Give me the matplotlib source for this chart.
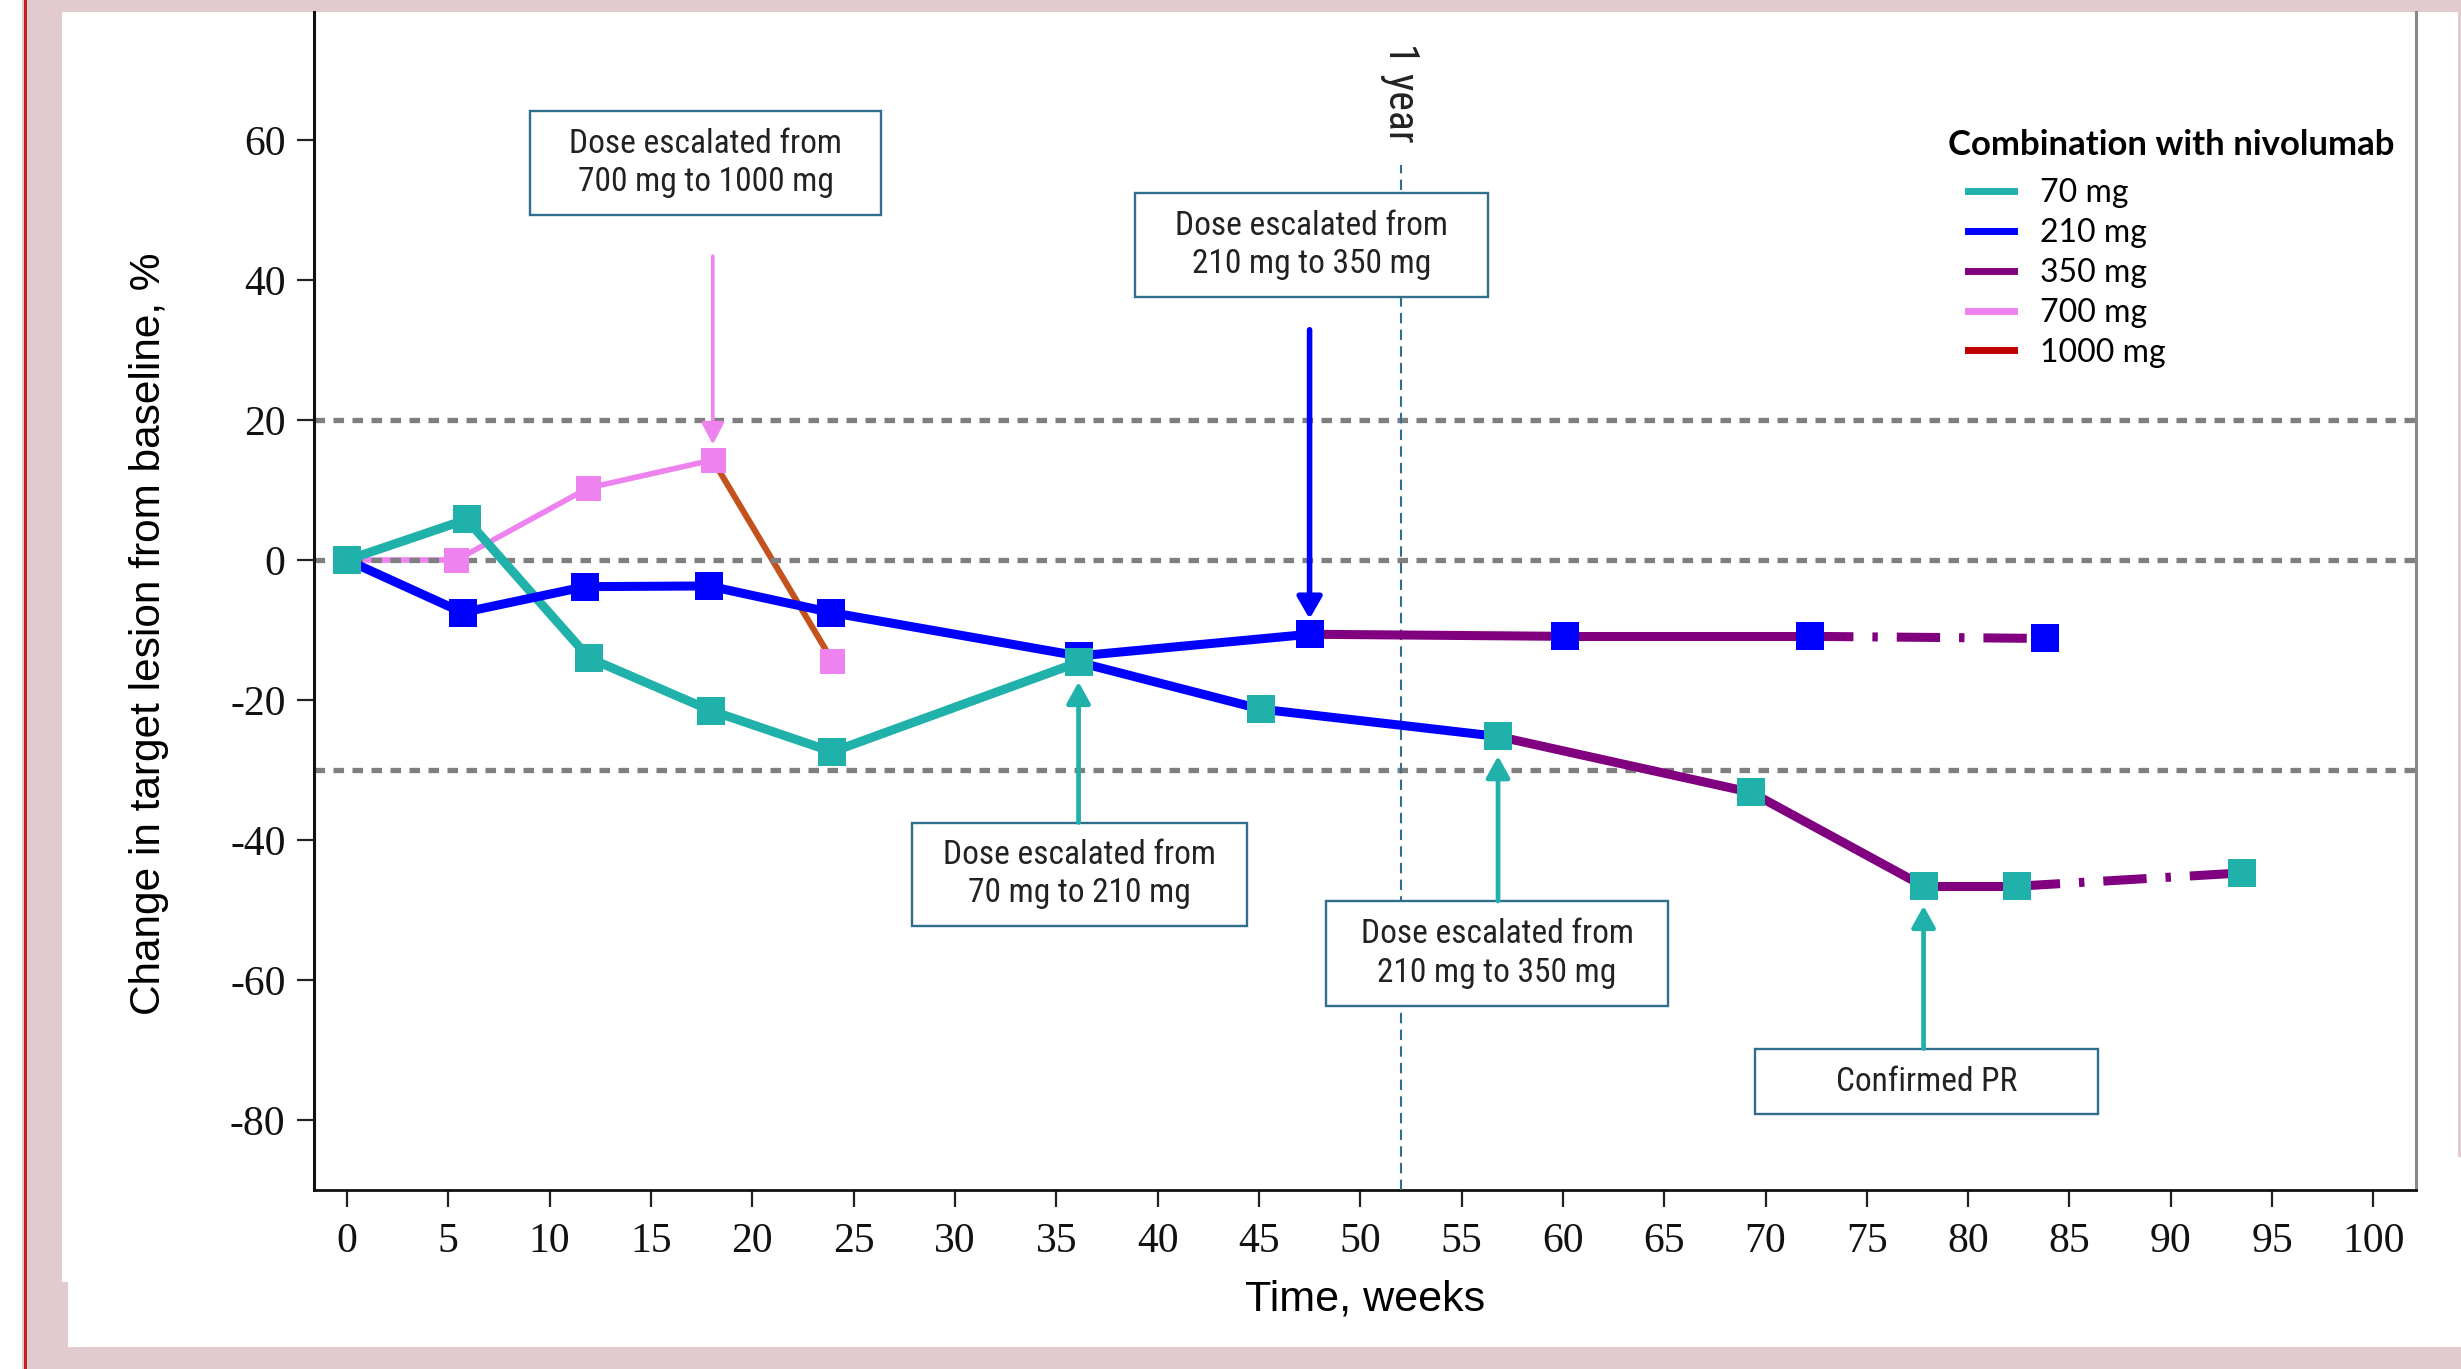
# %%
import matplotlib
matplotlib.use("Agg")
import matplotlib.pyplot as plt
from matplotlib.patches import Rectangle, ArrowStyle
from matplotlib.lines import Line2D

W, H = 2461, 1369

# patient starting on 70 mg (escalated to 210 mg, then 350 mg)
WeeksA = [0, 5.9, 11.95, 17.95, 23.95, 36.1, 45.1, 56.8, 69.3, 77.8, 82.4, 93.5]
ChangeA = [0, 5.8, -14.0, -21.5, -27.4, -14.6, -21.3, -25.2, -33.2, -46.6, -46.6, -44.7]
DoseA = ['70 mg'] * 5 + ['210 mg'] * 2 + ['350 mg'] * 4

# patient starting on 210 mg (escalated to 350 mg)
WeeksB = [0, 5.7, 11.75, 17.85, 23.9, 36.1, 47.5, 60.1, 72.2, 83.8]
ChangeB = [0, -7.5, -3.8, -3.7, -7.5, -13.7, -10.6, -10.9, -10.9, -11.2]
DoseB = ['210 mg'] * 6 + ['350 mg'] * 3

# patient starting on 700 mg (escalated to 1000 mg)
WeeksC = [0, 5.4, 11.9, 18.05, 23.95]
ChangeC = [0, 0, 10.3, 14.3, -14.4]
DoseC = ['700 mg'] * 3 + ['1000 mg']

Doses = ['70 mg', '210 mg', '350 mg', '700 mg', '1000 mg']
RefLevels = [20, 0, -30]
YearWeek = 52
XTicks = list(range(0, 101, 5))
YTicks = list(range(-80, 61, 20))

DoseColors = {'70 mg': '#20B2AA', '210 mg': '#0000FF', '350 mg': '#800080',
              '700 mg': '#EE82EE', '1000 mg': '#C00000'}
LineColors = dict(DoseColors)
LineColors['1000 mg'] = '#C4521C'
LineWidths = {'70 mg': 6.5, '210 mg': 6.5, '350 mg': 6.5, '700 mg': 4.0, '1000 mg': 4.4}
DashDot = (0, (4.8, 2.1, 0.6, 2.1))

plt.rcParams['font.family'] = ['Liberation Sans', 'DejaVu Sans']
plt.rcParams['axes.unicode_minus'] = False
NoteFont = ['Roboto Condensed', 'Liberation Sans Narrow', 'Roboto']

fig = plt.figure(figsize=(W / 100, H / 100), dpi=100, facecolor='#E2CBCE')


def FigRect(x0, y0, x1, y1, color):
    # rectangle given in pixel coords (origin top-left)
    fig.add_artist(Rectangle((x0 / W, 1 - y1 / H), (x1 - x0) / W, (y1 - y0) / H,
                             transform=fig.transFigure, facecolor=color,
                             edgecolor='none', zorder=-5))


FigRect(0, 0, 22, H, 'white')
FigRect(23.5, 0, 26.5, H, '#C0202C')
FigRect(62, 12, 2458, 1282, 'white')
FigRect(68, 1157, W, 1347, 'white')

ax = fig.add_axes([314 / W, (H - 1190) / H, (2416 - 314) / W, (1190 - 12) / H])
ax.patch.set_alpha(0)
ax.set_xlim(-1.63, 102.1)
ax.set_ylim(-90, 78.3)

for lev in RefLevels:
    ax.axhline(lev, color='#7F7F7F', lw=3.8, ls=(0, (2.0, 1.6)),
               dash_capstyle='butt', zorder=2.5)

ax.plot([YearWeek, YearWeek], [-90, 56.4], color='#2F6E8C', lw=1.5,
        ls=(0, (5, 3)), zorder=2.6)
ax.text(YearWeek, 66.7, '1 year', rotation=270, ha='center', va='center',
        fontsize=30, family=NoteFont, color='#222222')


def DrawPatient(weeks, change, doses, ongoing, marker_color, ms, zl, zm):
    for i in range(len(doses)):
        ls = '-'
        if ongoing and i == len(doses) - 1:
            ls = DashDot
        ax.plot(weeks[i:i + 2], change[i:i + 2], color=LineColors[doses[i]],
                lw=LineWidths[doses[i]], ls=ls, solid_capstyle='round',
                dash_capstyle='butt', zorder=zl)
    ax.plot(weeks, change, ls='none', marker='s', ms=ms, color=marker_color,
            markeredgewidth=0, zorder=zm)


DrawPatient(WeeksC, ChangeC, DoseC, False, DoseColors['700 mg'], 18, 2.0, 4.0)
DrawPatient(WeeksA, ChangeA, DoseA, True, DoseColors['70 mg'], 20, 3.0, 4.4)
DrawPatient(WeeksB, ChangeB, DoseB, True, DoseColors['210 mg'], 20, 3.2, 4.2)

# dose escalation notes: text, box centre, box size, target point,
# arrow direction, arrow tail (None = box edge), arrow colour and width
Notes = [
    ('Dose escalated from\n700 mg to 1000 mg', (17.7, 56.7), (17.3, 14.8),
     (WeeksC[3], ChangeC[3]), 'down', 43.4, DoseColors['700 mg'], 2.6),
    ('Dose escalated from\n210 mg to 350 mg', (47.6, 45.0), (17.4, 14.8),
     (WeeksB[6], ChangeB[6]), 'down', 32.9, DoseColors['210 mg'], 4.0),
    ('Dose escalated from\n70 mg to 210 mg', (36.15, -44.9), (16.5, 14.8),
     (WeeksA[5], ChangeA[5]), 'up', None, DoseColors['70 mg'], 3.4),
    ('Dose escalated from\n210 mg to 350 mg', (56.75, -56.2), (16.9, 15.0),
     (WeeksA[7], ChangeA[7]), 'up', None, DoseColors['70 mg'], 3.4),
    ('Confirmed PR', (77.95, -74.5), (16.9, 9.4),
     (WeeksA[9], ChangeA[9]), 'up', None, DoseColors['70 mg'], 3.4),
]

for text, (cx, cy), (bw, bh), (tx, ty), way, tail_y, col, lw in Notes:
    ax.add_patch(Rectangle((cx - bw / 2, cy - bh / 2), bw, bh, facecolor='white',
                           edgecolor='#2F6E8C', lw=1.7, zorder=5))
    ax.text(cx, cy, text, ha='center', va='center', fontsize=24, family=NoteFont,
            color='#222222', linespacing=1.25, zorder=6)
    if way == 'down':
        tail, tip = (tx, tail_y), (tx, ty + 2.2)
    else:
        tail, tip = (tx, cy + bh / 2), (tx, ty - 2.8)
    style = ArrowStyle('-|>', head_length=13, head_width=5.5 + lw / 2)
    ax.annotate('', xy=tip, xytext=tail,
                arrowprops=dict(arrowstyle=style, color=col, lw=lw, shrinkA=0,
                                shrinkB=0, mutation_scale=1), zorder=5)

ax.set_xticks(XTicks)
ax.set_yticks(YTicks)
ax.tick_params(axis='both', length=12.5, width=1.6, color='#222222',
               labelsize=30, labelcolor='#111111')
ax.tick_params(axis='y', pad=8)
ax.tick_params(axis='x', pad=11)
for lab in ax.get_xticklabels() + ax.get_yticklabels():
    lab.set_family('Liberation Serif')

ax.spines['top'].set_visible(False)
ax.spines['left'].set_linewidth(2.2)
ax.spines['left'].set_color('#111111')
ax.spines['bottom'].set_linewidth(2.0)
ax.spines['bottom'].set_color('#111111')
ax.spines['right'].set_linewidth(2.2)
ax.spines['right'].set_color('#888888')

ax.set_ylabel('Change in target lesion from baseline, %', fontsize=30.5)
ax.yaxis.set_label_coords(-0.069, 0.472)
ax.set_xlabel('Time, weeks', fontsize=31)
ax.xaxis.set_label_coords(0.5, -0.0764)

fig.text(1948 / W, 1 - 145 / H, 'Combination with nivolumab', ha='left',
         va='center', fontsize=25, fontweight='bold', family='Lato')
handles = [Line2D([], [], color=DoseColors[d], lw=5) for d in Doses]
fig.legend(handles, Doses, loc='upper left', bbox_to_anchor=(1968 / W, 1 - 178 / H),
           frameon=False, borderpad=0, borderaxespad=0, handlelength=1.44,
           handletextpad=0.82, labelspacing=0.31, prop={'family': 'Lato', 'size': 23})

fig.savefig('out.png', dpi=100, facecolor=fig.get_facecolor())
